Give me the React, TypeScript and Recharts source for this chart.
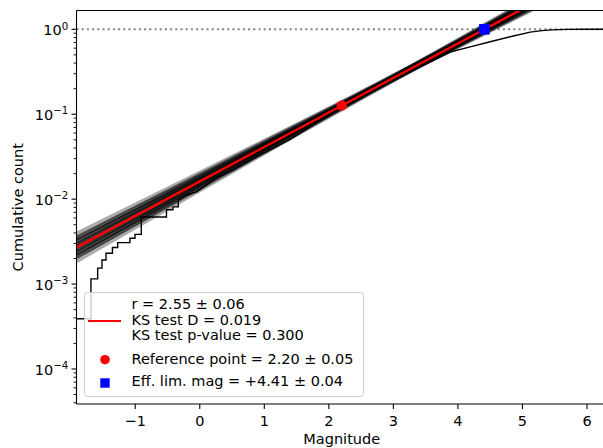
import React from "react";
import { ComposedChart, Line, Scatter, XAxis, YAxis, ReferenceLine } from "recharts";

// empirical cumulative distribution, lower (stepped) part
const stepMag = [-1.91, -1.686, -1.582, -1.515, -1.453, -1.353, -1.272, -1.082, -1.004, -0.906, -0.516, -0.415, -0.333];
const stepCount = [3.9e-4, 1.15e-3, 1.54e-3, 1.92e-3, 2.31e-3, 2.69e-3, 3.08e-3, 3.46e-3, 3.85e-3, 6.15e-3, 7.5e-3, 8.1e-3, 9.8e-3];

// upper, densely sampled part
const smoothMag = [-0.333, -0.203, -0.048, 0.107, 0.262, 0.5, 0.9, 1.4, 1.8, 2.2, 2.6, 3.0, 3.3, 3.5, 3.7, 3.88, 4.19, 4.5, 4.81, 5.12, 5.3, 5.45, 5.7, 6.0, 6.31];
const smoothCount = [9.8e-3, 1.12e-2, 1.22e-2, 1.47e-2, 1.81e-2, 0.0216, 0.032, 0.0505, 0.0785, 0.119, 0.175, 0.255, 0.335, 0.39, 0.46, 0.54, 0.622, 0.714, 0.818, 0.925, 0.965, 0.985, 0.997, 1.0, 1.0];

// best fit power law (end points)
const fitMag = [-1.91, 5.4];
const fitCount = [0.0027, 2.526];

// bootstrap fits, value at the left and right end of the fit range
const bandLeft = [
  0.003899, 0.003475, 0.00317, 0.002924, 0.002698, 0.002489, 0.002296, 0.002094, 0.001866,
  0.003491, 0.003148, 0.002838, 0.002559, 0.002307, 0.002104,
  0.003459, 0.003155, 0.002844, 0.002564, 0.002312, 0.002084,
];
const bandRight = [
  2.177, 2.281, 2.367, 2.445, 2.526, 2.609, 2.695, 2.797, 2.93,
  2.444, 2.549, 2.657, 2.77, 2.888, 2.997,
  2.128, 2.208, 2.303, 2.401, 2.503, 2.61,
];

const refMag = [2.2];
const refCount = [0.1265];
const limMag = [4.41];
const limCount = [1.0];

const xTicks = [-1, 0, 1, 2, 3, 4, 5, 6];
const xTickLabels = ["\u22121", "0", "1", "2", "3", "4", "5", "6"];
const majorYTicks = [1e-4, 1e-3, 1e-2, 1e-1, 1];
const yTickExponents = ["\u22124", "\u22123", "\u22122", "\u22121", "0"];
const minorYTicks = [
  4e-5, 5e-5, 6e-5, 7e-5, 8e-5, 9e-5,
  2e-4, 3e-4, 4e-4, 5e-4, 6e-4, 7e-4, 8e-4, 9e-4,
  2e-3, 3e-3, 4e-3, 5e-3, 6e-3, 7e-3, 8e-3, 9e-3,
  2e-2, 3e-2, 4e-2, 5e-2, 6e-2, 7e-2, 8e-2, 9e-2,
  0.2, 0.3, 0.4, 0.5, 0.6, 0.7, 0.8, 0.9,
];

const legendLines = ["r = 2.55 \u00b1 0.06", "KS test D = 0.019", "KS test p-value = 0.300"];
const refLabel = "Reference point = 2.20 \u00b1 0.05";
const limLabel = "Eff. lim. mag = +4.41 \u00b1 0.04";

const FONT = "'DejaVu Sans', sans-serif";
const FS = 14.5;

const toPoints = (xs: number[], ys: number[]) => xs.map((x, i) => ({ x, y: ys[i] }));

const stepData = toPoints(stepMag, stepCount);
const smoothData = toPoints(smoothMag, smoothCount);
const fitData = toPoints(fitMag, fitCount);
const bandData = bandLeft.map((l, i) => toPoints(fitMag, [l, bandRight[i]]));
const refData = toPoints(refMag, refCount);
const limData = toPoints(limMag, limCount);

const XTick = (props: any) => {
  const { x, y, payload } = props;
  const idx = xTicks.indexOf(payload.value);
  return (
    <g>
      <line x1={x} x2={x} y1={y} y2={y + 5} stroke="#000" strokeWidth={1.1} />
      <text x={x} y={y + 21.7} textAnchor="middle" fontFamily={FONT} fontSize={FS} fill="#000">
        {idx >= 0 ? xTickLabels[idx] : ""}
      </text>
    </g>
  );
};

const YTick = (props: any) => {
  const { x, y, payload } = props;
  const idx = majorYTicks.indexOf(payload.value);
  if (idx < 0) {
    return <line x1={x - 3} x2={x} y1={y} y2={y} stroke="#000" strokeWidth={0.9} />;
  }
  return (
    <g>
      <line x1={x - 5} x2={x} y1={y} y2={y} stroke="#000" strokeWidth={1.1} />
      <text x={x - 8.2} y={y + 5.7} textAnchor="end" fontFamily={FONT} fontSize={FS} fill="#000">
        <tspan>10</tspan>
        <tspan dy={-5.5} fontSize={10.2}>{yTickExponents[idx]}</tspan>
      </text>
    </g>
  );
};

export default function App() {
  return (
    <div style={{ position: "absolute", left: 0, top: 0, width: 603, height: 448, overflow: "hidden", background: "#fff" }}>
      <ComposedChart width={612} height={448} margin={{ top: 10.5, right: 5, bottom: 0, left: 0.5 }}>
        <XAxis
          type="number"
          dataKey="x"
          domain={[-1.91, 6.31]}
          allowDataOverflow
          ticks={xTicks}
          interval={0}
          height={44}
          tickSize={0}
          tickMargin={0}
          tickLine={false}
          axisLine={{ stroke: "#000", strokeWidth: 1.1 }}
          tick={<XTick />}
        />
        <YAxis
          type="number"
          dataKey="y"
          scale="log"
          domain={[3.87e-5, 1.665]}
          allowDataOverflow
          ticks={[...minorYTicks, ...majorYTicks]}
          interval={0}
          width={76}
          tickSize={0}
          tickMargin={0}
          tickLine={false}
          axisLine={{ stroke: "#000", strokeWidth: 1.1 }}
          tick={<YTick />}
        />
        <ReferenceLine y={1} stroke="#808080" strokeWidth={1.9} strokeDasharray="2 3.2" />
        {bandData.map((d, i) => (
          <Line
            key={`band-${i}`}
            data={d}
            dataKey="y"
            type="linear"
            stroke="rgba(0,0,0,0.33)"
            strokeWidth={4.2}
            dot={false}
            activeDot={false}
            isAnimationActive={false}
          />
        ))}
        <Line data={stepData} dataKey="y" type="stepAfter" stroke="#000" strokeWidth={1.4} dot={false} activeDot={false} isAnimationActive={false} />
        <Line data={smoothData} dataKey="y" type="linear" stroke="#000" strokeWidth={1.4} dot={false} activeDot={false} isAnimationActive={false} />
        <Line data={fitData} dataKey="y" type="linear" stroke="#ff0000" strokeWidth={2.4} dot={false} activeDot={false} isAnimationActive={false} />
        <Scatter
          data={refData}
          dataKey="y"
          isAnimationActive={false}
          shape={(p: any) => <circle cx={p.cx} cy={p.cy} r={5.1} fill="#ff0000" />}
        />
        <Scatter
          data={limData}
          dataKey="y"
          isAnimationActive={false}
          shape={(p: any) => <rect x={p.cx - 5.3} y={p.cy - 5.3} width={10.6} height={10.6} fill="#0000ff" />}
        />
      </ComposedChart>
      <svg width={603} height={448} style={{ position: "absolute", left: 0, top: 0, pointerEvents: "none" }}>
        <line x1={76.5} x2={603} y1={10.5} y2={10.5} stroke="#000" strokeWidth={1.1} />
        <text x={22.5} y={207.25} transform="rotate(-90 22.5 207.25)" textAnchor="middle" fontFamily={FONT} fontSize={FS} fill="#000">
          Cumulative count
        </text>
        <text x={341.75} y={444} textAnchor="middle" fontFamily={FONT} fontSize={FS} fill="#000">
          Magnitude
        </text>
        <rect x={84.5} y={292.5} width={279} height={104} rx={3} fill="#fff" fillOpacity={0.8} stroke="#cccccc" strokeWidth={1} />
        <line x1={88} x2={121} y1={321} y2={321} stroke="#ff0000" strokeWidth={2.2} />
        {legendLines.map((t, i) => (
          <text key={t} x={131.5} y={308.7 + i * 15.8} fontFamily={FONT} fontSize={FS} fill="#000">
            {t}
          </text>
        ))}
        <circle cx={105} cy={359.7} r={4.8} fill="#ff0000" />
        <text x={131.5} y={363.7} fontFamily={FONT} fontSize={FS} fill="#000">{refLabel}</text>
        <rect x={100.3} y={378.3} width={9.4} height={9.4} fill="#0000ff" />
        <text x={131.5} y={386.3} fontFamily={FONT} fontSize={FS} fill="#000">{limLabel}</text>
      </svg>
    </div>
  );
}
